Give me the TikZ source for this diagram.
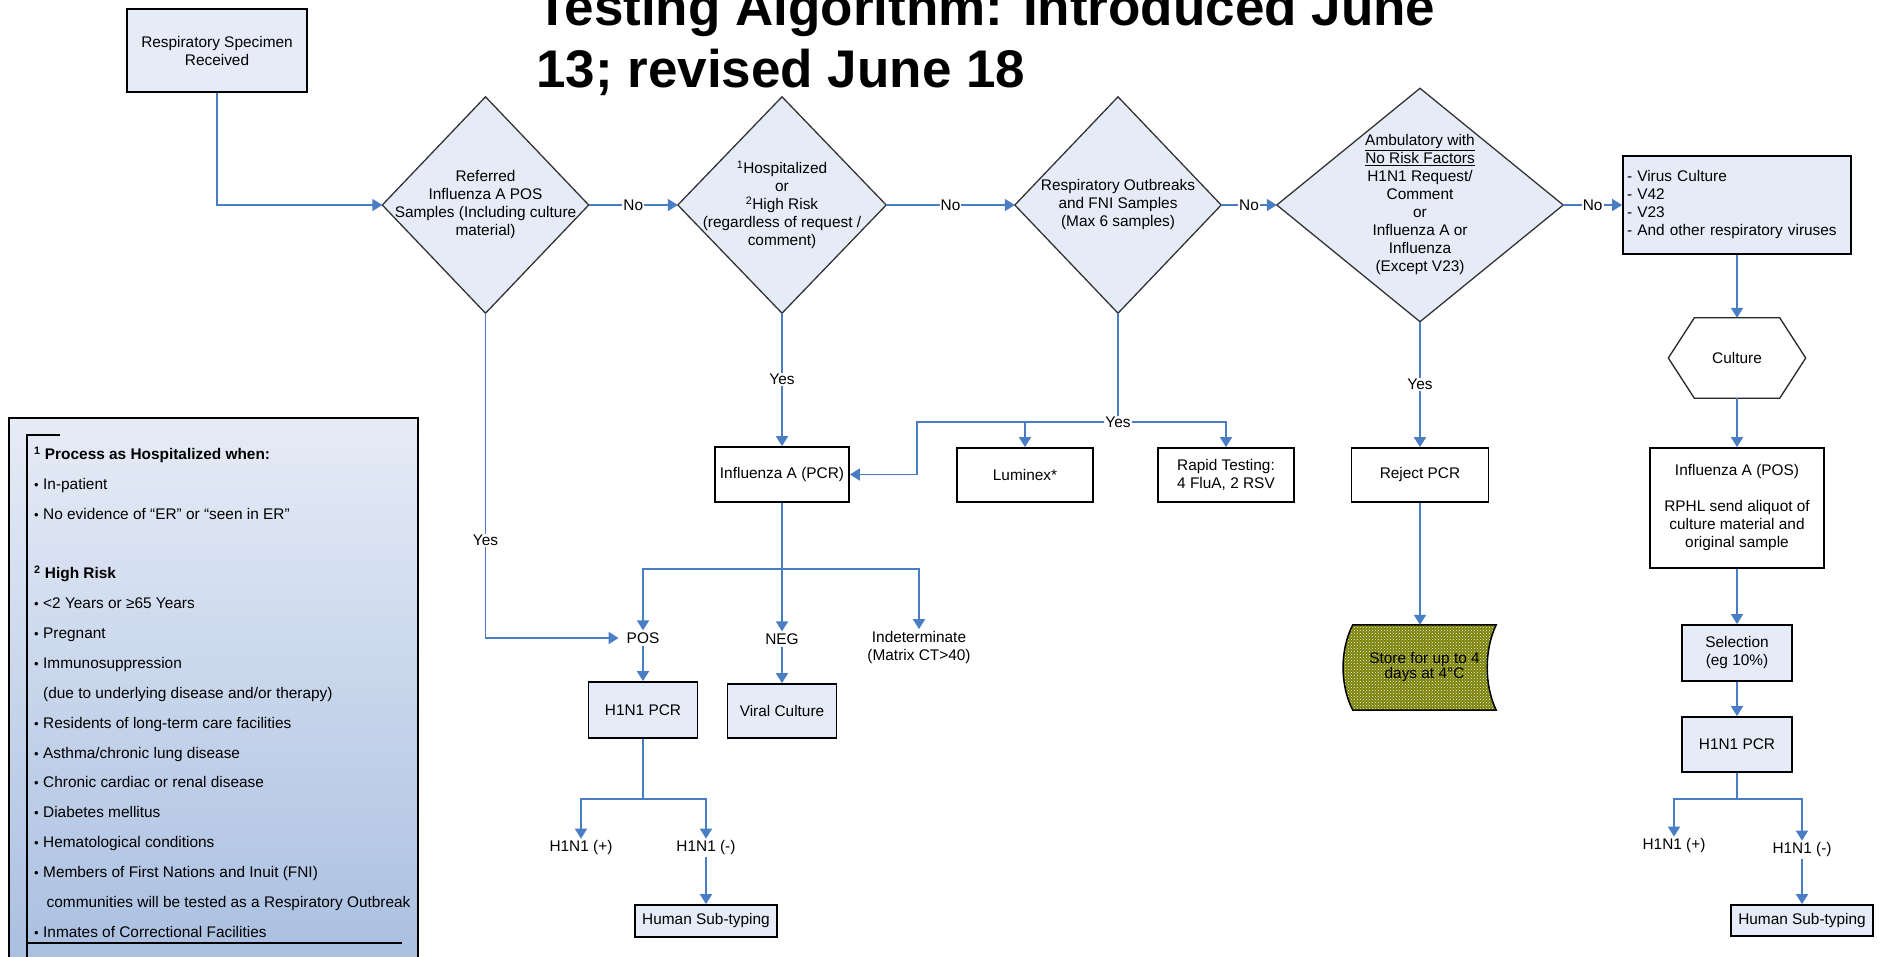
\documentclass[tikz,border=0pt]{standalone}
\usepackage{fontspec}
\setmainfont{Liberation Sans}
\usepackage{xcolor}
\usetikzlibrary{arrows.meta, calc, patterns}

\definecolor{boxblue}{RGB}{230,236,247}
\definecolor{linkblue}{RGB}{74,126,196}
\definecolor{olivefill}{RGB}{128,128,0}
\definecolor{legtop}{RGB}{230,236,246}
\definecolor{legbot}{RGB}{168,190,224}

\pgfdeclarelayer{bg}
\pgfsetlayers{bg,main}

\newcommand{\dfont}{\fontsize{15.4}{18}\selectfont}
\newcommand{\bul}{\makebox[9pt][l]{\fontsize{13}{13}\selectfont\textbullet}}

\begin{document}
\begin{tikzpicture}[
  x=1pt, y=-1pt,
  titletext/.style={font=\fontsize{53}{62}\selectfont\bfseries, inner sep=0pt},
  box/.style={draw=black, line width=1.8pt, fill=white, align=center, font=\dfont, inner sep=2pt},
  bluebox/.style={box, fill=boxblue},
  decision/.style={align=center, font=\dfont, inner sep=0pt},
  result/.style={align=center, font=\dfont, inner sep=2pt},
  edge/.style={draw=linkblue, line width=1.8pt, -{Triangle[width=12pt,length=10pt]}},
  wire/.style={draw=linkblue, line width=1.8pt},
  lbl/.style={fill=white, inner sep=1pt, font=\dfont},
  diamondline/.style={draw=black!80, line width=1.3pt, fill=boxblue},
  hexline/.style={draw=black!85, line width=1.3pt, fill=white},
  storeshape/.style={draw=black, line width=1.5pt, preaction={fill=olivefill}, pattern=crosshatch dots, pattern color=white!85!cyan},
  legendtext/.style={align=left, inner sep=0pt, font=\fontsize{15.4}{29.875}\selectfont}
]
\useasboundingbox (0,0) rectangle (1881,956);

% title
\node[titletext, anchor=base west] (title1) at (536,25) {Testing Algorithm: Introduced June};
\node[titletext, anchor=base west] (title2) at (536,87) {13; revised June 18};

% top row
\node[bluebox, minimum width=180pt, minimum height=83pt] (start) at (217,50.5) {Respiratory Specimen\\Received};
\node[decision, minimum width=206pt, minimum height=216pt] (d1) at (485.5,205) {Referred\\Influenza A POS\\Samples (Including culture\\material)};
\node[decision, minimum width=208pt, minimum height=216pt] (d2) at (782,205) {\textsuperscript{1}Hospitalized\\or\\\textsuperscript{2}High Risk\\(regardless of request /\\comment)};
\node[decision, minimum width=206pt, minimum height=216pt] (d3) at (1118,205) {Respiratory Outbreaks\\and FNI Samples\\(Max 6 samples)};
\node[decision, minimum width=286pt, minimum height=233pt] (d4) at (1420,205) {\underline{Ambulatory with}\\\underline{No Risk Factors}\\H1N1 Request/\\Comment\\or\\Influenza A or\\Influenza\\(Except V23)};
\node[bluebox, minimum height=98pt, text width=220pt, align=left, inner xsep=4pt] (virus) at (1737,205) {- Virus Culture\\- V42\\- V23\\- And other respiratory viruses};

% middle row
\node[box, minimum width=134pt, minimum height=55pt] (pcrA) at (782,474.5) {Influenza A (PCR)};
\node[box, minimum width=136pt, minimum height=54pt] (lum) at (1025,475) {Luminex*};
\node[box, minimum width=136pt, minimum height=54pt] (rapid) at (1226,475) {Rapid Testing:\\4 FluA, 2 RSV};
\node[box, minimum width=137pt, minimum height=54pt] (rej) at (1420,475) {Reject PCR};
\node[result, font=\fontsize{15.4}{15}\selectfont, minimum width=143pt, minimum height=85pt] (store) at (1424.5,667.5) {Store for up to 4\\days at 4°C};

% PCR results
\node[result] (pos1) at (643,638) {POS};
\node[result] (neg1) at (782,639) {NEG};
\node[result] (indet) at (919,647.5) {Indeterminate\\(Matrix CT>40)};
\node[bluebox, minimum width=109pt, minimum height=56pt] (h1L) at (643,710) {H1N1 PCR};
\node[bluebox, minimum width=109pt, minimum height=54pt] (vcul) at (782,711) {Viral Culture};
\node[result] (plusL) at (581,848) {H1N1 (+)};
\node[result] (minusL) at (706,848) {H1N1 (-)};
\node[bluebox, minimum width=142pt, minimum height=32pt] (humL) at (706,921) {Human Sub-typing};

% culture column
\node[result, minimum width=137pt, minimum height=80pt] (cul) at (1737,358) {Culture};
\node[box, minimum width=174pt, minimum height=120pt] (posA) at (1737,508) {Influenza A (POS)\\[18pt]RPHL send aliquot of\\culture material and\\original sample};
\node[bluebox, minimum width=110pt, minimum height=56pt] (sel) at (1737,653) {Selection\\(eg 10\%)};
\node[bluebox, minimum width=110pt, minimum height=55pt] (pcrR) at (1737,744.5) {H1N1 PCR};
\node[result] (plusR) at (1674,846) {H1N1 (+)};
\node[result] (minusR) at (1802,850) {H1N1 (-)};
\node[bluebox, minimum width=142pt, minimum height=31pt] (humR) at (1802,920.5) {Human Sub-typing};

% shapes behind the texts
\begin{pgfonlayer}{bg}
  \foreach \d in {d1,d2,d3,d4}
    \filldraw[diamondline] (\d.west) -- (\d.north) -- (\d.east) -- (\d.south) -- cycle;
  \filldraw[hexline] (cul.west) -- ($(cul.north west)+(26,0)$) -- ($(cul.north east)+(-26,0)$) -- (cul.east)
    -- ($(cul.south east)+(-26,0)$) -- ($(cul.south west)+(26,0)$) -- cycle;
  \draw[storeshape] (store.north west) -- (store.north east)
    .. controls ($(store.north east)+(-12,25)$) and ($(store.south east)+(-12,-25)$) .. (store.south east)
    -- (store.south west)
    .. controls ($(store.south west)+(-13,-25)$) and ($(store.north west)+(-13,25)$) .. (store.north west) -- cycle;
  \shade[top color=legtop, bottom color=legbot] (9,418) rectangle (418,975);
\end{pgfonlayer}

% legend
\draw[line width=2pt] (9,418) rectangle (418,975);
\draw[line width=1.2pt] (60,435) -- (27,435) -- (27,975);
\draw[line width=1.2pt] (27,943) -- (402,943);
\node[legendtext, anchor=north west] (legtext) at (34,446.5) {%
  \textbf{\textsuperscript{1} Process as Hospitalized when:}\\
  \bul In-patient\\
  \bul No evidence of ``ER'' or ``seen in ER''\\[29.875pt]
  \textbf{\textsuperscript{2} High Risk}\\
  \bul <2 Years or ≥65 Years\\
  \bul Pregnant\\
  \bul Immunosuppression\\
  \hspace*{9pt}(due to underlying disease and/or therapy)\\
  \bul Residents of long-term care facilities\\
  \bul Asthma/chronic lung disease\\
  \bul Chronic cardiac or renal disease\\
  \bul Diabetes mellitus\\
  \bul Hematological conditions\\
  \bul Members of First Nations and Inuit (FNI)\\
  \hspace*{12.5pt}communities will be tested as a Respiratory Outbreak\\
  \bul Inmates of Correctional Facilities};

% main decision chain
\draw[edge] (start.south) |- (d1.west);
\draw[edge] (d1.east) -- node[lbl] (no1) {No} (d2.west);
\draw[edge] (d2.east) -- node[lbl] (no2) {No} (d3.west);
\draw[edge] (d3.east) -- node[lbl] (no3) {No} (d4.west);
\draw[edge] (d4.east) -- node[lbl] (no4) {No} (virus.west);

% yes branches
\draw[edge] (d1.south) |- node[lbl, pos=0.35] (yes1) {Yes} ([xshift=-6pt]pos1.west);
\draw[edge] (d2.south) -- node[lbl] (yes2) {Yes} (pcrA.north);
\coordinate (yesj) at (d3.south |- 0,422);
\coordinate (yesw) at (917,422);
\draw[wire] (d3.south) -- (yesj);
\draw[edge] (yesj) -| (lum.north);
\draw[edge] (yesj) -| (rapid.north);
\draw[edge] (yesj) -- (yesw) |- (pcrA.east);
\node[lbl] (yes3) at (yesj) {Yes};
\draw[edge] (d4.south) -- node[lbl] (yes4) {Yes} (rej.north);
\draw[edge] (rej.south) -- (rej.south |- store.north);

% PCR outcomes
\coordinate (pcrsplit) at ($(pcrA.south)+(0,66)$);
\draw[edge] (pcrA.south) -- (pcrsplit) -| (pos1.north);
\draw[edge] (pcrA.south) -- (neg1.north);
\draw[edge] (pcrsplit) -| (indet.north);
\draw[edge] (pos1.south) -- (h1L.north);
\draw[edge] (neg1.south) -- (vcul.north);
\draw[edge] (h1L.south) -- ++(0,60) -| (plusL.north);
\draw[edge] (h1L.south) -- ++(0,60) -| (minusL.north);
\draw[edge] (minusL.south) -- (humL.north);

% culture column
\draw[edge] (virus.south) -- (cul.north);
\draw[edge] (cul.south) -- (posA.north);
\draw[edge] (posA.south) -- (sel.north);
\draw[edge] (sel.south) -- (pcrR.north);
\draw[edge] (pcrR.south) -- ++(0,26) -| (plusR.north);
\draw[edge] (pcrR.south) -- ++(0,26) -| (minusR.north);
\draw[edge] (minusR.south) -- (humR.north);
\end{tikzpicture}
\end{document}
